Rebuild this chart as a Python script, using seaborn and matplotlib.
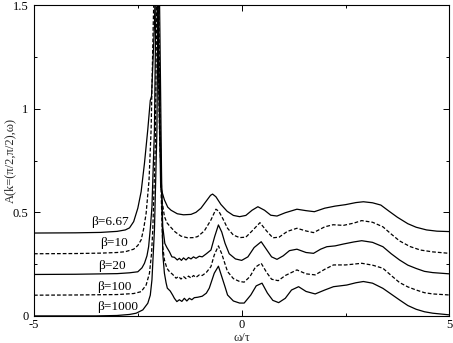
import numpy as np
import pandas as pd
import matplotlib
matplotlib.use("Agg")
import matplotlib.pyplot as plt
from matplotlib.ticker import MultipleLocator
import seaborn as sns

# ---------------------------------------------------------------------------
# DATA
# ---------------------------------------------------------------------------

labels = ["β=6.67", "β=10", "β=20", "β=100", "β=1000"]
line_styles = ["-", "--", "-", "--", "-"]

w_b667 = [-5, -4, -3.4, -3.0, -2.8, -2.7, -2.6, -2.5, -2.42, -2.34, -2.26, -2.2,
          -2.17, -2.1, -2.05, -2.0, -1.95, -1.86, -1.78, -1.70, -1.55, -1.4, -1.22,
          -1.1, -0.98, -0.85, -0.75, -0.70, -0.62, -0.5, -0.35, -0.2, -0.05, 0.1,
          0.25, 0.39, 0.55, 0.7, 0.85, 1.05, 1.33, 1.55, 1.75, 2.0, 2.25, 2.5, 2.75,
          2.93, 3.15, 3.35, 3.55, 3.75, 4.0, 4.2, 4.45, 4.7, 5.0]
a_b667 = [0.400, 0.401, 0.403, 0.408, 0.415, 0.425, 0.455, 0.52, 0.60, 0.737, 0.90, 1.04,
          1.06, 1.40, 1.90, 1.20, 0.62, 0.56, 0.525, 0.51, 0.493, 0.488, 0.49,
          0.50, 0.52, 0.555, 0.582, 0.588, 0.575, 0.538, 0.505, 0.485, 0.479, 0.485,
          0.51, 0.527, 0.51, 0.486, 0.482, 0.498, 0.515, 0.508, 0.503, 0.52, 0.53, 0.537, 0.547,
          0.551, 0.546, 0.535, 0.505, 0.476, 0.445, 0.428, 0.415, 0.409, 0.407]

w_b10 = [-5, -4, -3.4, -3.0, -2.8, -2.6, -2.5, -2.42, -2.36, -2.3, -2.23, -2.18,
         -2.13, -2.07, -2.03, -1.98, -1.92, -1.86, -1.8, -1.74, -1.6, -1.46, -1.3,
         -1.15, -1.06, -0.9, -0.74, -0.62, -0.55, -0.45, -0.34, -0.2, -0.05, 0.1,
         0.25, 0.44, 0.6, 0.75, 0.9, 1.1, 1.33, 1.55, 1.73, 2.0, 2.2, 2.45, 2.7,
         2.89, 3.15, 3.4, 3.6, 3.8, 4.05, 4.3, 4.6, 5.0]
a_b10 = [0.300, 0.301, 0.303, 0.306, 0.31, 0.322, 0.34, 0.367, 0.42, 0.495, 0.656, 0.90,
         1.40, 1.90, 1.50, 0.90, 0.56, 0.48, 0.45, 0.435, 0.405, 0.385, 0.377,
         0.378, 0.383, 0.41, 0.463, 0.515, 0.505, 0.468, 0.423, 0.39, 0.378, 0.38,
         0.41, 0.45, 0.41, 0.377, 0.38, 0.408, 0.423, 0.41, 0.402, 0.43, 0.44, 0.437, 0.448,
         0.46, 0.452, 0.43, 0.395, 0.362, 0.335, 0.318, 0.309, 0.302]

w_b20 = [-5, -4, -3.0, -2.7, -2.5, -2.4, -2.34, -2.28, -2.24, -2.2, -2.16, -2.1,
         -2.06, -2.03, -2.0, -1.95, -1.9, -1.85, -1.8, -1.74, -1.68, -1.62, -1.55,
         -1.5, -1.45, -1.4, -1.34, -1.28, -1.22, -1.16, -1.1, -1.02, -0.95, -0.85,
         -0.74, -0.65, -0.56, -0.48, -0.4, -0.3, -0.15, 0.0, 0.15, 0.3, 0.47, 0.6,
         0.72, 0.85, 1.0, 1.15, 1.33, 1.55, 1.73, 1.9, 2.05, 2.25, 2.45, 2.7, 2.89,
         3.15, 3.4, 3.6, 3.8, 4.0, 4.2, 4.4, 4.6, 5.0]
a_b20 = [0.200, 0.201, 0.204, 0.208, 0.213, 0.232, 0.254, 0.29, 0.334, 0.42, 0.527, 0.90,
         1.60, 1.90, 1.30, 0.75, 0.43, 0.35, 0.33, 0.31, 0.285, 0.283, 0.27,
         0.278, 0.268, 0.28, 0.27, 0.282, 0.275, 0.285, 0.278, 0.288, 0.285, 0.30,
         0.318, 0.383, 0.439, 0.405, 0.35, 0.30, 0.275, 0.268, 0.285, 0.33, 0.358, 0.32,
         0.285, 0.273, 0.29, 0.315, 0.322, 0.306, 0.302, 0.322, 0.334, 0.338, 0.347, 0.357, 0.363,
         0.355, 0.334, 0.30, 0.27, 0.245, 0.229, 0.215, 0.209, 0.203]

w_b100 = [-5, -4, -3.0, -2.6, -2.42, -2.3, -2.22, -2.17, -2.14, -2.08, -2.04, -2.01,
          -1.98, -1.94, -1.9, -1.86, -1.8, -1.74, -1.66, -1.58, -1.52, -1.46, -1.4,
          -1.34, -1.28, -1.22, -1.16, -1.1, -1.02, -0.95, -0.85, -0.74, -0.66, -0.56,
          -0.48, -0.4, -0.34, -0.2, -0.05, 0.06, 0.2, 0.33, 0.47, 0.6, 0.72, 0.88,
          1.05, 1.33, 1.55, 1.77, 2.0, 2.21, 2.5, 2.7, 2.89, 3.15, 3.4, 3.6, 3.8,
          4.0, 4.2, 4.4, 4.6, 5.0]
a_b100 = [0.100, 0.101, 0.103, 0.108, 0.117, 0.149, 0.206, 0.30, 0.415, 0.816, 1.60, 1.90,
          1.20, 0.60, 0.334, 0.27, 0.23, 0.214, 0.20, 0.182, 0.19, 0.178, 0.19,
          0.18, 0.192, 0.183, 0.195, 0.186, 0.198, 0.195, 0.21, 0.238, 0.294, 0.338,
          0.30, 0.25, 0.214, 0.18, 0.166, 0.163, 0.19, 0.235, 0.254, 0.21, 0.177, 0.17,
          0.195, 0.222, 0.203, 0.198, 0.225, 0.246, 0.246, 0.25, 0.254, 0.245, 0.23, 0.195, 0.161,
          0.14, 0.125, 0.112, 0.106, 0.101]

w_b1000 = [-5, -3.5, -3.0, -2.7, -2.54, -2.38, -2.26, -2.2, -2.16, -2.1, -2.04, -2.0,
           -1.97, -1.93, -1.9, -1.86, -1.82, -1.79, -1.72, -1.66, -1.62, -1.56, -1.5,
           -1.44, -1.38, -1.32, -1.26, -1.2, -1.14, -1.06, -0.95, -0.85, -0.78, -0.66,
           -0.56, -0.48, -0.4, -0.34, -0.2, -0.05, 0.06, 0.22, 0.35, 0.49, 0.62, 0.75,
           0.89, 1.05, 1.2, 1.37, 1.55, 1.77, 2.0, 2.21, 2.53, 2.75, 2.93, 3.15, 3.4,
           3.6, 3.8, 4.0, 4.2, 4.4, 4.6, 5.0]
a_b1000 = [0.000, 0.000, 0.002, 0.007, 0.013, 0.029, 0.061, 0.10, 0.174, 0.415, 0.897, 1.90,
           1.40, 0.70, 0.30, 0.206, 0.16, 0.134, 0.12, 0.10, 0.085, 0.069, 0.078,
           0.07, 0.085, 0.072, 0.085, 0.078, 0.088, 0.09, 0.095, 0.11, 0.134, 0.206,
           0.24, 0.19, 0.14, 0.101, 0.072, 0.062, 0.062, 0.101, 0.145, 0.158, 0.11, 0.075,
           0.064, 0.085, 0.125, 0.141, 0.118, 0.106, 0.125, 0.141, 0.149, 0.16, 0.166, 0.158, 0.133,
           0.105, 0.077, 0.05, 0.032, 0.02, 0.013, 0.005]

# label anchor positions in data coords
label_x = [-3.16, -3.08, -3.13, -3.06, -2.99]
label_y = [0.455, 0.352, 0.241, 0.14, 0.043]

x_ticks = [-5, 0, 5]
y_ticks = [0, 0.5, 1, 1.5]
y_tick_labels = ["0", "0.5", "1", "1.5"]

omegas = [w_b667, w_b10, w_b20, w_b100, w_b1000]
spectra = [a_b667, a_b10, a_b20, a_b100, a_b1000]

# ---------------------------------------------------------------------------
# PLOT
# ---------------------------------------------------------------------------

sns.set_theme(style="ticks")
plt.rcParams["font.family"] = ["Liberation Serif", "DejaVu Serif"]

fig = plt.figure(figsize=(4.53, 3.43), dpi=100)
ax = fig.add_axes([0.075, 0.079, 0.917, 0.906])

for w, a, ls in zip(omegas, spectra, line_styles):
    df = pd.DataFrame({"omega": w, "A": a})
    sns.lineplot(data=df, x="omega", y="A", ax=ax, color="black",
                 linewidth=0.9, sort=False, estimator=None, legend=False)
    if ls == "--":
        ax.lines[-1].set_dashes([3, 1.6])

for lab, lx, ly in zip(labels, label_x, label_y):
    ax.text(lx, ly, lab, ha="center", va="center", fontsize=9.5, color="black")

ax.set_xlim(-5, 5)
ax.set_ylim(0, 1.5)
ax.set_xticks(x_ticks)
ax.set_xticklabels([str(t) for t in x_ticks])
ax.set_yticks(y_ticks)
ax.set_yticklabels(y_tick_labels)
ax.xaxis.set_minor_locator(MultipleLocator(2.5))
ax.yaxis.set_minor_locator(MultipleLocator(0.25))
ax.tick_params(which="both", direction="in", top=True, right=True,
               colors="black", labelsize=9, width=0.7)
ax.tick_params(axis="x", pad=2.5)
ax.tick_params(axis="y", pad=4)
ax.tick_params(which="major", length=4.5)
ax.tick_params(which="minor", length=2.5)
for sp in ax.spines.values():
    sp.set_color("black")
    sp.set_linewidth(0.8)

ax.set_xlabel("ω/τ", fontsize=9)
ax.set_ylabel("A(k=(π/2,π/2),ω)", fontsize=9)
ax.xaxis.set_label_coords(0.5, -0.053)
ax.yaxis.set_label_coords(-0.044, 0.5)

fig.savefig("out.png", dpi=100, facecolor="white")
